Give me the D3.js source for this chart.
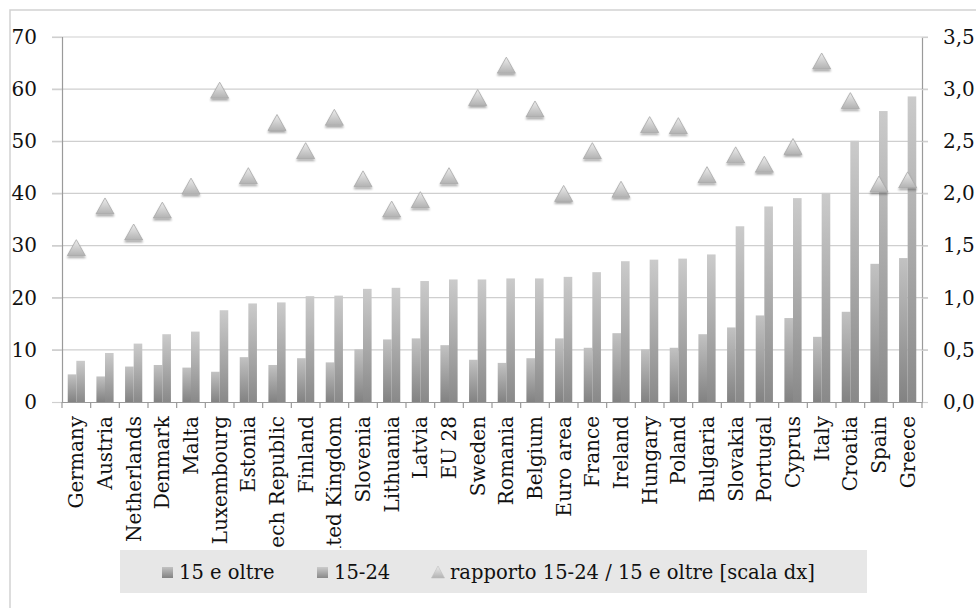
<!DOCTYPE html>
<html>
<head>
<meta charset="utf-8">
<script src="https://cdn.jsdelivr.net/npm/d3@7/dist/d3.min.js"></script>
<style>
  html, body { margin: 0; padding: 0; background: #fff; }
  svg { display: block; }
  text { font-family: "DejaVu Serif", serif; fill: #111; }
</style>
</head>
<body>
<svg id="chart" width="976" height="608"></svg>
<script>
const categories = ["Germany","Austria","Netherlands","Denmark","Malta","Luxembourg","Estonia","Czech Republic","Finland","United Kingdom","Slovenia","Lithuania","Latvia","EU 28","Sweden","Romania","Belgium","Euro area","France","Ireland","Hungary","Poland","Bulgaria","Slovakia","Portugal","Cyprus","Italy","Croatia","Spain","Greece"];
const total15plus = [5.3,4.9,6.8,7.1,6.6,5.8,8.6,7.1,8.4,7.6,10.1,12.0,12.2,10.9,8.1,7.5,8.4,12.2,10.4,13.2,10.1,10.4,13.0,14.3,16.6,16.1,12.5,17.3,26.5,27.6];
const youth1524 = [7.9,9.4,11.2,13.0,13.5,17.6,18.9,19.1,20.3,20.4,21.7,21.9,23.2,23.5,23.5,23.7,23.7,24.0,24.9,27.0,27.3,27.5,28.3,33.7,37.5,39.1,40.1,50.1,55.8,58.6];
const ratio = [1.48,1.88,1.63,1.84,2.07,2.99,2.17,2.68,2.41,2.73,2.14,1.85,1.94,2.17,2.92,3.23,2.81,2.00,2.41,2.04,2.66,2.65,2.18,2.37,2.28,2.45,3.27,2.89,2.09,2.13];
const leftTicks = [0,10,20,30,40,50,60,70];
const rightTicks = [0,0.5,1.0,1.5,2.0,2.5,3.0,3.5];
const seriesNames = ["15 e oltre","15-24"];
const ratioName = "rapporto 15-24 / 15 e oltre [scala dx]";

const svg = d3.select("#chart");
const L = 62, R = 922, T = 37, B = 402;

// defs
const defs = svg.append("defs");
const g1 = defs.append("linearGradient").attr("id","gBar1").attr("x1",0).attr("y1",0).attr("x2",0).attr("y2",1);
g1.append("stop").attr("offset","0%").attr("stop-color","#c2c2c2");
g1.append("stop").attr("offset","100%").attr("stop-color","#828282");
const g2 = defs.append("linearGradient").attr("id","gBar2").attr("x1",0).attr("y1",0).attr("x2",0).attr("y2",1);
g2.append("stop").attr("offset","0%").attr("stop-color","#cbcbcb");
g2.append("stop").attr("offset","100%").attr("stop-color","#898989");
const gt = defs.append("linearGradient").attr("id","gTri").attr("x1",0).attr("y1",0).attr("x2",0).attr("y2",1);
gt.append("stop").attr("offset","0%").attr("stop-color","#ededed");
gt.append("stop").attr("offset","100%").attr("stop-color","#b2b2b2");
const f = defs.append("filter").attr("id","shadow").attr("x","-50%").attr("y","-50%").attr("width","200%").attr("height","200%");
f.append("feGaussianBlur").attr("in","SourceAlpha").attr("stdDeviation",1.3).attr("result","b");
f.append("feOffset").attr("in","b").attr("dy",2).attr("result","o");
f.append("feComponentTransfer").attr("in","o").attr("result","s").append("feFuncA").attr("type","linear").attr("slope",0.35);
const fm = f.append("feMerge");
fm.append("feMergeNode").attr("in","s");
fm.append("feMergeNode").attr("in","SourceGraphic");
defs.append("clipPath").attr("id","labClip").append("rect").attr("x",0).attr("y",B).attr("width",976).attr("height",548-B);

// outer frame
svg.append("rect").attr("x",10).attr("y",10).attr("width",1000).attr("height",700)
  .attr("fill","none").attr("stroke","#d2d2d2").attr("stroke-width",1.5);

// scales
const x = d3.scaleBand().domain(categories).range([L, R]).padding(0);
const xs = d3.scaleBand().domain(seriesNames).range([x.bandwidth()*0.2, x.bandwidth()*0.8]).padding(0);
const yL = d3.scaleLinear().domain([0,70]).range([B, T]);
const yR = d3.scaleLinear().domain([0,3.5]).range([B, T]);

// gridlines
svg.append("g").selectAll("line").data(leftTicks.filter(d => d > 0)).join("line")
  .attr("x1", L - 10).attr("x2", R + 6)
  .attr("y1", d => yL(d)).attr("y2", d => yL(d))
  .attr("stroke","#cfcfcf").attr("stroke-width",1.2);

// left axis
const axL = svg.append("g").attr("transform",`translate(${L},0)`)
  .call(d3.axisLeft(yL).tickValues(leftTicks).tickSize(10).tickPadding(15).tickFormat(d3.format("d")));
axL.select(".domain").attr("stroke","#9a9a9a").attr("stroke-width",1.2);
axL.selectAll(".tick line").attr("stroke","#cfcfcf").attr("stroke-width",1.2);
axL.selectAll(".tick text").style("font-family","DejaVu Serif").style("font-size","20px").attr("fill","#111");

// right axis
const axR = svg.append("g").attr("transform",`translate(${R},0)`)
  .call(d3.axisRight(yR).tickValues(rightTicks).tickSize(6).tickPadding(15).tickFormat(d => d3.format(".1f")(d).replace(".", ",")));
axR.select(".domain").attr("stroke","#9a9a9a").attr("stroke-width",1.2);
axR.selectAll(".tick line").attr("stroke","#cfcfcf").attr("stroke-width",1.2);
axR.selectAll(".tick text").style("font-family","DejaVu Serif").style("font-size","20px").attr("fill","#111");

// bars
const barG = svg.append("g");
barG.selectAll("rect.b1").data(categories).join("rect").attr("class","b1")
  .attr("x", (c) => x(c) + xs(seriesNames[0]))
  .attr("width", xs.bandwidth())
  .attr("y", (c,i) => yL(total15plus[i]))
  .attr("height", (c,i) => yL(0) - yL(total15plus[i]))
  .attr("fill","url(#gBar1)");
barG.selectAll("rect.b2").data(categories).join("rect").attr("class","b2")
  .attr("x", (c) => x(c) + xs(seriesNames[1]))
  .attr("width", xs.bandwidth())
  .attr("y", (c,i) => yL(youth1524[i]))
  .attr("height", (c,i) => yL(0) - yL(youth1524[i]))
  .attr("fill","url(#gBar2)");

// bottom axis
const axB = svg.append("g").attr("transform",`translate(0,${B})`)
  .call(d3.axisBottom(x).tickSize(0).tickFormat(""));
axB.select(".domain").attr("stroke","#9a9a9a").attr("stroke-width",1.2);
const bounds = categories.map(c => x(c)).concat([x.range()[1]]);
svg.append("g").selectAll("line").data(bounds).join("line")
  .attr("x1", d => d).attr("x2", d => d).attr("y1", B).attr("y2", B + 6)
  .attr("stroke","#9a9a9a").attr("stroke-width",1.2);

// x labels
svg.append("g").attr("clip-path","url(#labClip)").selectAll("text").data(categories).join("text")
  .attr("transform", c => `translate(${x(c) + x.bandwidth()/2},${B + 14}) rotate(-90)`)
  .attr("text-anchor","end").attr("dy","0.35em")
  .style("font-size","20px").text(c => c);

// triangles
function tri(cx, cy, w, h) {
  return `M${cx},${cy - h/2}L${cx + w/2},${cy + h/2}L${cx - w/2},${cy + h/2}Z`;
}
svg.append("g").selectAll("path").data(categories).join("path")
  .attr("d", (c,i) => tri(x(c) + x.bandwidth()/2, yR(ratio[i]), 18, 16))
  .attr("fill","url(#gTri)").attr("stroke","#a8a8a8").attr("stroke-width",0.8)
  .attr("filter","url(#shadow)");

// legend
const lg = svg.append("g");
lg.append("rect").attr("x",120).attr("y",550).attr("width",747).attr("height",43).attr("fill","#e7e7e7");
lg.append("rect").attr("x",162).attr("y",567).attr("width",11).attr("height",11).attr("fill","url(#gBar1)");
lg.append("text").attr("x",179).attr("y",579).style("font-size","19.5px").text(seriesNames[0]);
lg.append("rect").attr("x",317).attr("y",567).attr("width",11).attr("height",11).attr("fill","url(#gBar2)");
lg.append("text").attr("x",334).attr("y",579).style("font-size","19.5px").text(seriesNames[1]);
lg.append("path").attr("d", tri(438, 572, 13, 12)).attr("fill","url(#gTri)").attr("stroke","#c0c0c0").attr("stroke-width",0.6);
lg.append("text").attr("x",450).attr("y",579).style("font-size","19.5px").text(ratioName);
</script>
</body>
</html>
